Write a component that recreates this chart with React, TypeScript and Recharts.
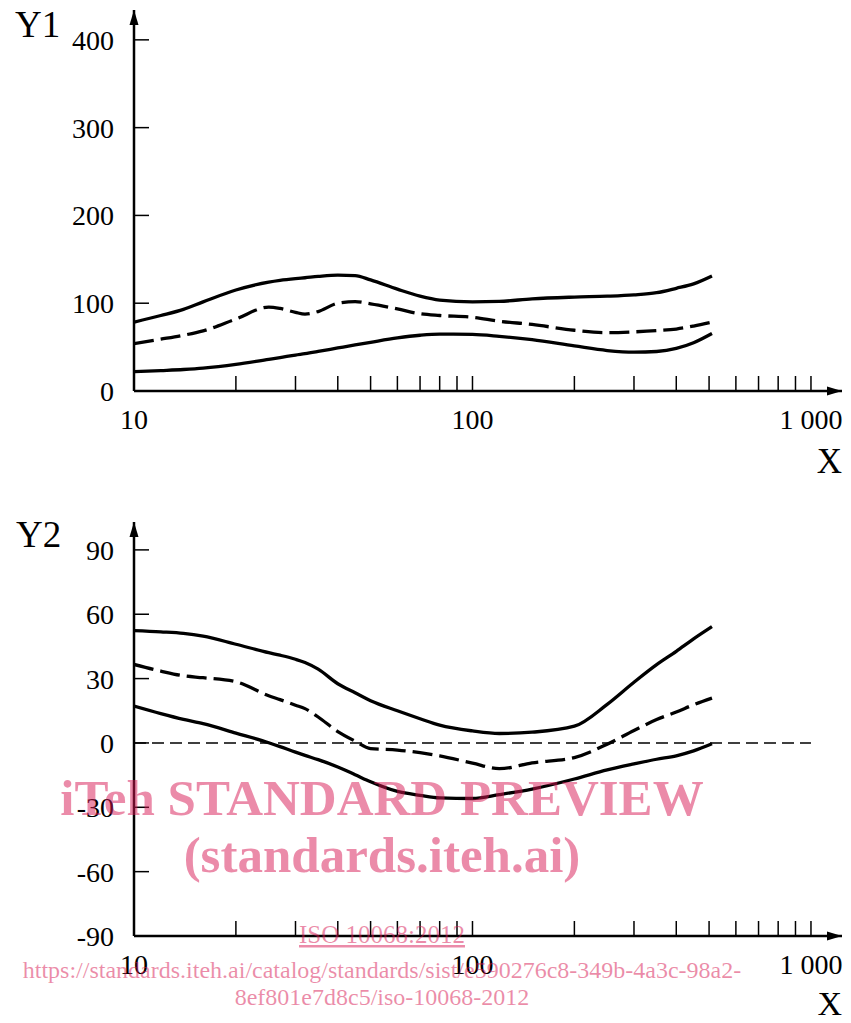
import React from 'react';
import { LineChart, Line, XAxis, YAxis, ReferenceLine, ReferenceDot } from 'recharts';

// Frequency-like x values (log axis)
const xValues = [10, 12, 14, 16, 20, 25, 27, 30, 32, 35, 40, 45, 50, 60, 70, 80, 100, 120, 150, 200, 250, 300, 350, 400, 450, 510];

// Upper panel (Y1)
const y1Upper = [78.5, 86, 93, 101.5, 115, 124, 126, 128, 129, 130.5, 132, 131.5, 126.5, 116, 108, 103.5, 101.5, 102, 105, 107, 108, 109.5, 112, 117, 122, 131];
const y1Middle = [54, 59, 63.5, 68.5, 82, 95.5, 94, 89.6, 87.5, 90.5, 100, 101.8, 99.3, 93.5, 88, 86, 84, 79.5, 75.8, 69.2, 66.5, 67.4, 68.8, 70.6, 74, 78.5];
const y1Lower = [22, 23.3, 24.5, 26, 30.2, 36, 38, 41, 42.5, 45, 49, 52.5, 55.5, 60.5, 63.5, 64.8, 64.5, 62.3, 58.4, 51.3, 46.1, 44.2, 45, 48.5, 55, 65.5];

// Lower panel (Y2)
const y2Upper = [52.4, 51.8, 51.1, 49.8, 46, 42.1, 40.9, 39, 37.5, 34.4, 27.6, 23.4, 19.7, 15, 11.3, 8.3, 5.6, 4.4, 5, 7.8, 18, 28.3, 36.5, 42.7, 48.5, 54.2];
const y2Middle = [36.6, 33.5, 31.3, 30.4, 28.5, 22, 20.2, 17.6, 16, 12.1, 5.3, 0.85, -2.6, -3.3, -4.5, -6, -9.4, -12, -9.3, -6.8, -0.6, 5.8, 10.9, 14.4, 17.8, 20.9];
const y2Lower = [17.2, 13.7, 11, 9, 4.6, 0.1, -1.7, -4.3, -5.8, -7.8, -11.2, -14.8, -18.1, -22.6, -24.4, -25.6, -25.9, -24.1, -21.5, -16.8, -12.6, -9.8, -7.6, -6, -3.7, -0.4];

const xTicks = [10, 20, 30, 40, 50, 60, 70, 80, 90, 100, 200, 300, 400, 500, 600, 700, 800, 900, 1000];
const xTickLabels: Record<number, string> = { 10: '10', 100: '100', 1000: '1\u00a0000' };
const y1Ticks = [0, 100, 200, 300, 400];
const y2Ticks = [-90, -60, -30, 0, 30, 60, 90];

const X_MIN = 10;
const X_MAX = 1235;
const Y1_MIN = 0;
const Y1_MAX = 434;
const Y2_MIN = -90;
const Y2_MAX = 103;

const topData = xValues.map((x, i) => ({ x, upper: y1Upper[i], middle: y1Middle[i], lower: y1Lower[i] }));
const bottomData = xValues.map((x, i) => ({ x, upper: y2Upper[i], middle: y2Middle[i], lower: y2Lower[i] }));

const FONT = '"Liberation Serif", "Times New Roman", serif';
const tickStyle = { fontFamily: FONT, fontSize: 28, fill: '#000' };

const arrowRight = (p: any) => {
  const { cx, cy } = p;
  return <path d={`M${cx},${cy} L${cx - 15},${cy - 4.5} L${cx - 15},${cy + 4.5} Z`} fill="#000" />;
};
const arrowUp = (p: any) => {
  const { cx, cy } = p;
  return <path d={`M${cx},${cy} L${cx - 4.5},${cy + 15} L${cx + 4.5},${cy + 15} Z`} fill="#000" />;
};

function Panel({ data, yDomain, yTicks, height, marginTop, xAxisHeight, zeroLine }: any) {
  return (
    <LineChart width={851} height={height} data={data} margin={{ top: marginTop, right: 9, left: 0, bottom: 0 }}>
      <XAxis
        dataKey="x"
        type="number"
        scale="log"
        domain={[X_MIN, X_MAX]}
        allowDataOverflow
        ticks={xTicks}
        tickFormatter={(v: number) => xTickLabels[v] ?? ''}
        interval={0}
        height={xAxisHeight}
        tickSize={-15}
        tickMargin={33}
        axisLine={{ stroke: '#000', strokeWidth: 2.5 }}
        tickLine={{ stroke: '#000', strokeWidth: 1.5 }}
        tick={tickStyle}
      />
      <YAxis
        type="number"
        domain={yDomain}
        allowDataOverflow
        ticks={yTicks}
        interval={0}
        width={134}
        tickSize={-15}
        tickMargin={35}
        axisLine={{ stroke: '#000', strokeWidth: 2.5 }}
        tickLine={{ stroke: '#000', strokeWidth: 1.5 }}
        tick={tickStyle}
      />
      {zeroLine && (
        <ReferenceLine
          segment={[{ x: 10, y: 0 }, { x: 1000, y: 0 }]}
          stroke="#000"
          strokeWidth={1.5}
          strokeDasharray="12 6"
        />
      )}
      <Line dataKey="upper" type="monotone" stroke="#000" strokeWidth={3.3} dot={false} isAnimationActive={false} />
      <Line dataKey="middle" type="monotone" stroke="#000" strokeWidth={3.3} strokeDasharray="20 7" dot={false} isAnimationActive={false} />
      <Line dataKey="lower" type="monotone" stroke="#000" strokeWidth={3.3} dot={false} isAnimationActive={false} />
      <ReferenceDot x={X_MAX} y={yDomain[0]} r={1} ifOverflow="visible" shape={arrowRight} />
      <ReferenceDot x={X_MIN} y={yDomain[1]} r={1} ifOverflow="visible" shape={arrowUp} />
    </LineChart>
  );
}

export default function App() {
  const wm = { fontFamily: FONT, fill: 'rgb(216,24,84)', fillOpacity: 0.5 } as any;
  return (
    <div style={{ position: 'absolute', left: 0, top: 0, width: 851, height: 1023, background: '#fff', overflow: 'hidden' }}>
      <div style={{ position: 'absolute', left: 0, top: 0 }}>
        <Panel data={topData} yDomain={[Y1_MIN, Y1_MAX]} yTicks={y1Ticks} height={480} marginTop={10} xAxisHeight={89} zeroLine={false} />
      </div>
      <div style={{ position: 'absolute', left: 0, top: 480 }}>
        <Panel data={bottomData} yDomain={[Y2_MIN, Y2_MAX]} yTicks={y2Ticks} height={543} marginTop={42} xAxisHeight={87} zeroLine={true} />
      </div>
      <svg width={851} height={1023} style={{ position: 'absolute', left: 0, top: 0, pointerEvents: 'none' }}>
        <text x={15} y={37} fontFamily={FONT} fontSize={37} fill="#000">Y1</text>
        <text x={842} y={473} textAnchor="end" fontFamily={FONT} fontSize={35} fill="#000">X</text>
        <text x={16} y={547} fontFamily={FONT} fontSize={37} fill="#000">Y2</text>
        <text x={842} y={1015} textAnchor="end" fontFamily={FONT} fontSize={34} fill="#000">X</text>
        <text x={382} y={815} textAnchor="middle" fontSize={51} fontWeight="bold" {...wm}>iTeh STANDARD PREVIEW</text>
        <text x={382} y={872} textAnchor="middle" fontSize={51} fontWeight="bold" {...wm}>(standards.iteh.ai)</text>
        <text x={382} y={943} textAnchor="middle" fontSize={25} textDecoration="underline" {...wm}>ISO 10068:2012</text>
        <text x={382} y={978} textAnchor="middle" fontSize={24} {...wm}>https://standards.iteh.ai/catalog/standards/sist/e590276c8-349b-4a3c-98a2-</text>
        <text x={382} y={1005} textAnchor="middle" fontSize={24} {...wm}>8ef801e7d8c5/iso-10068-2012</text>
      </svg>
    </div>
  );
}
